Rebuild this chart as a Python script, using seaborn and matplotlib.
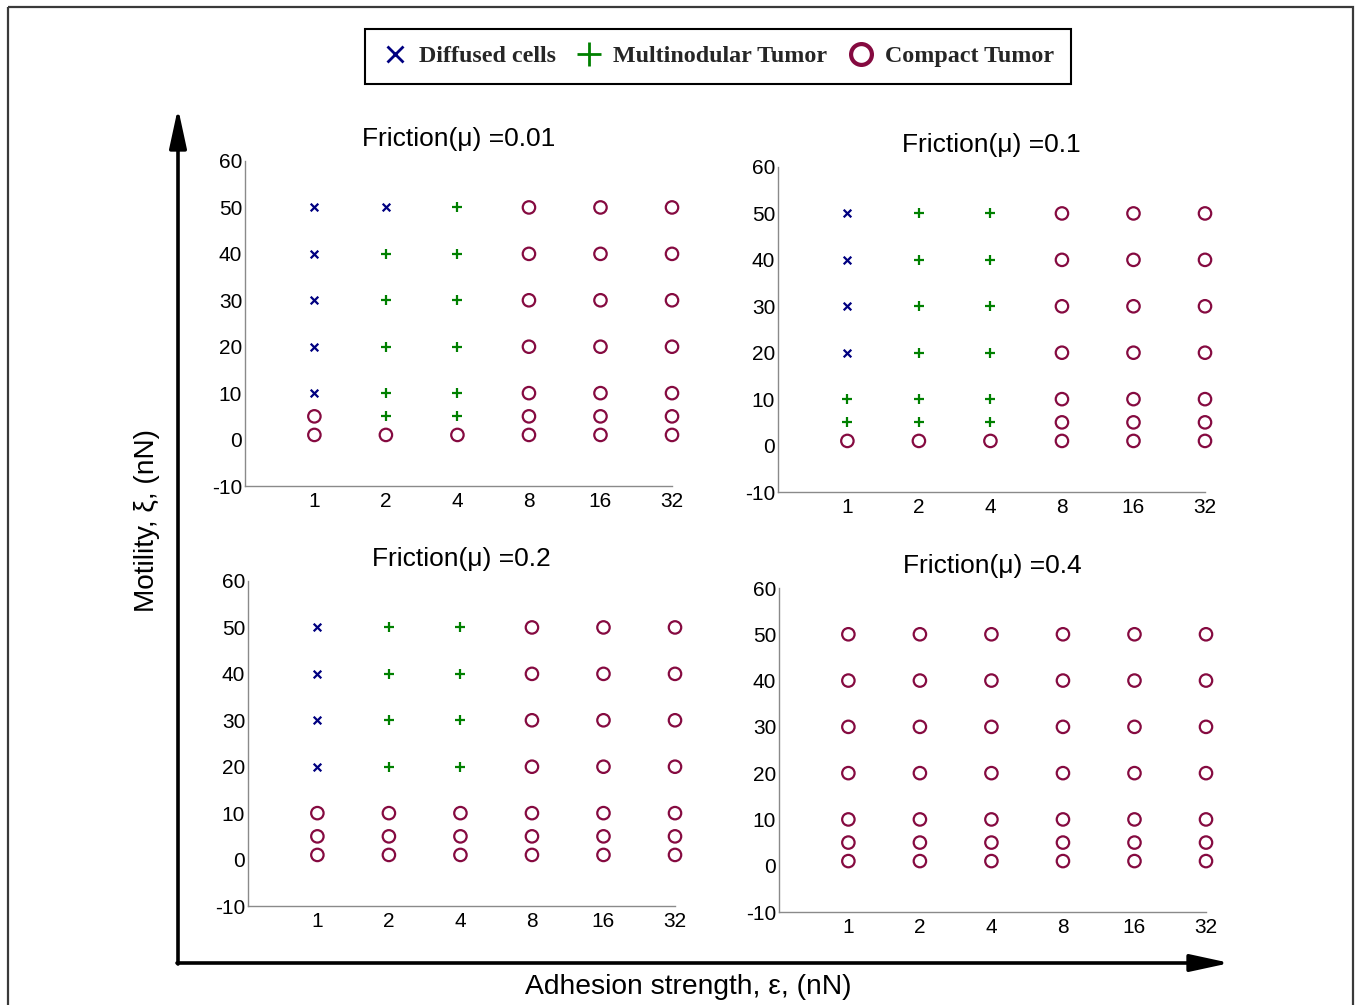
import numpy as np
import pandas as pd
import matplotlib
matplotlib.use("Agg")
import matplotlib.pyplot as plt
import seaborn as sns
from matplotlib.lines import Line2D
from matplotlib.patches import Rectangle

# ---------------- data ----------------
adhesion_labels = ["1", "2", "4", "8", "16", "32"]
motility_values = [50, 40, 30, 20, 10, 5, 1]
friction_values = ["0.01", "0.1", "0.2", "0.4"]

# D = Diffused cells, M = Multinodular Tumor, C = Compact Tumor
# rows follow motility_values, columns follow adhesion_labels
phase_mu_001 = ["DDMCCC", "DMMCCC", "DMMCCC", "DMMCCC", "DMMCCC", "CMMCCC", "CCCCCC"]
phase_mu_01 = ["DMMCCC", "DMMCCC", "DMMCCC", "DMMCCC", "MMMCCC", "MMMCCC", "CCCCCC"]
phase_mu_02 = ["DMMCCC", "DMMCCC", "DMMCCC", "DMMCCC", "CCCCCC", "CCCCCC", "CCCCCC"]
phase_mu_04 = ["CCCCCC", "CCCCCC", "CCCCCC", "CCCCCC", "CCCCCC", "CCCCCC", "CCCCCC"]
phase_grids = [phase_mu_001, phase_mu_01, phase_mu_02, phase_mu_04]

phase_names = {"D": "Diffused cells", "M": "Multinodular Tumor", "C": "Compact Tumor"}

rows = []
for fr, grid in zip(friction_values, phase_grids):
    for mot, row in zip(motility_values, grid):
        for j, code in enumerate(row):
            rows.append({"friction": fr, "pos": j + 1, "adhesion": adhesion_labels[j],
                         "motility": mot, "phase": code})
df = pd.DataFrame(rows)

# ---------------- style ----------------
sns.set_theme(style="white")
plt.rcParams["font.family"] = ["Liberation Sans", "DejaVu Sans"]
plt.rcParams["axes.unicode_minus"] = False

W, H = 1356, 1005
fig = plt.figure(figsize=(W / 100, H / 100), dpi=100)
fig.patch.set_facecolor("white")

# overlay for frame and arrows (pixel coordinates)
ov = fig.add_axes([0, 0, 1, 1])
ov.set_xlim(0, W)
ov.set_ylim(H, 0)
ov.axis("off")
ov.patch.set_visible(False)
ov.add_patch(Rectangle((8, 7), 1345, 1100, fill=False, edgecolor="#3a3a3a",
                       lw=1.6, clip_on=False))
arrow_kw = dict(arrowstyle="-|>,head_length=1.2,head_width=0.26", lw=2.6,
                color="black", shrinkA=0, shrinkB=0, mutation_scale=20)
ov.annotate("", xy=(178, 108), xytext=(178, 964), arrowprops=arrow_kw)
ov.annotate("", xy=(1230, 963), xytext=(177, 963), arrowprops=arrow_kw)

colors = {"D": "#000080", "M": "#008000", "C": "#850a40"}
markers = {"D": "x", "M": "+", "C": "o"}
sizes = {"D": 30, "M": 60, "C": 80}

# axes positions in pixels: left, top, right, bottom
boxes = [(245, 161, 672, 486), (778, 167, 1205, 492),
         (248, 581, 675, 906), (779, 588, 1206, 912)]

for fr, (l, t, r, b) in zip(friction_values, boxes):
    ax = fig.add_axes([l / W, 1 - b / H, (r - l) / W, (b - t) / H])
    ax.patch.set_visible(False)
    sub = df[df["friction"] == fr]
    for code in ["D", "M", "C"]:
        part = sub[sub["phase"] == code]
        if part.empty:
            continue
        if code == "C":
            sns.scatterplot(data=part, x="pos", y="motility", marker="o", s=sizes[code],
                            color=colors[code], facecolor="none", edgecolor=colors[code],
                            linewidth=1.6, ax=ax, legend=False, zorder=3, clip_on=False)
        else:
            sns.scatterplot(data=part, x="pos", y="motility", marker=markers[code],
                            s=sizes[code], color=colors[code], linewidth=1.6,
                            ax=ax, legend=False, zorder=3, clip_on=False)
    ax.set_xlim(0.03, 6)
    ax.set_ylim(-10, 60)
    ax.set_xticks(range(1, 7))
    ax.set_xticklabels(adhesion_labels)
    ax.set_yticks(range(-10, 61, 10))
    ax.set_xlabel("")
    ax.set_ylabel("")
    for s in ["top", "right"]:
        ax.spines[s].set_visible(False)
    for s in ["left", "bottom"]:
        ax.spines[s].set_color("#8a8a8a")
        ax.spines[s].set_linewidth(1.0)
    ax.tick_params(direction="in", length=4, width=1, color="#8a8a8a",
                   labelcolor="black", labelsize=15)
    ax.tick_params(axis="y", pad=2)
    ax.tick_params(axis="x", pad=4)
    ax.set_title(f"Friction(\u03bc) ={fr}", fontsize=19, pad=11, color="black")

fig.text(688 / W, 1 - 987 / H, "Adhesion strength, \u03b5, (nN)", ha="center",
         va="center", fontsize=20.3, color="black")
fig.text(147 / W, 1 - 520 / H, "Motility, \u03be, (nN)", ha="center", va="center",
         rotation=90, fontsize=20.2, color="black")

handles = [
    Line2D([], [], ls="none", marker="x", color=colors["D"], markersize=11, mew=2),
    Line2D([], [], ls="none", marker="+", color=colors["M"], markersize=17, mew=2),
    Line2D([], [], ls="none", marker="o", markerfacecolor="none",
           markeredgecolor=colors["C"], markersize=15, mew=3),
]
leg = fig.legend(handles, [phase_names[c] for c in ["D", "M", "C"]],
                 loc="center", bbox_to_anchor=(718 / W, 1 - 56.5 / H), ncol=3,
                 prop=dict(family="Liberation Serif", weight="bold", size=17.3),
                 frameon=True, fancybox=False, framealpha=1, edgecolor="black",
                 borderpad=0.7, handlelength=1.1, handletextpad=0.45,
                 columnspacing=0.85)
leg.get_frame().set_linewidth(1.5)

fig.savefig("out.png", dpi=100)
